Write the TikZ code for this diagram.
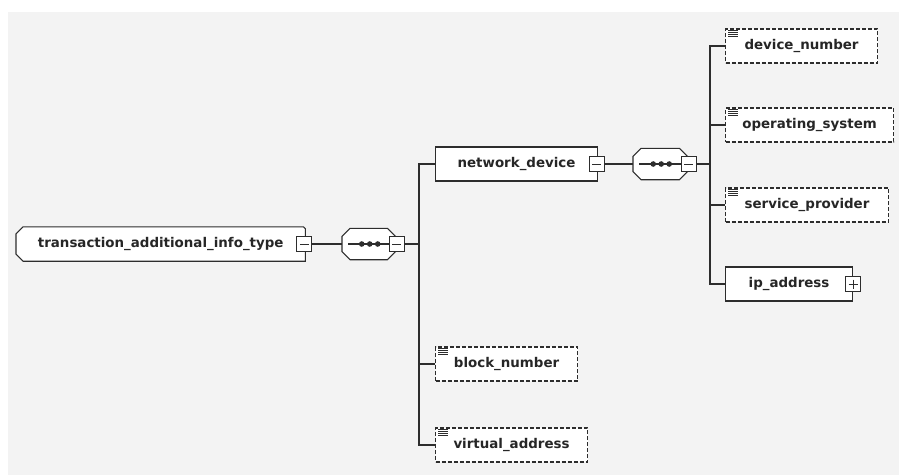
\documentclass[tikz,border=0pt]{standalone}
\usepackage{fontspec}
\setmainfont{DejaVu Sans}
\usetikzlibrary{positioning}

\definecolor{panelgray}{RGB}{243,243,243}
\definecolor{linegray}{RGB}{45,45,45}

\pgfdeclarelayer{panel}
\pgfdeclarelayer{outline}
\pgfsetlayers{panel,outline,main}

\tikzset{
  conn/.style={draw=linegray,line width=1.1pt},
  shapeline/.style={draw=linegray,line width=1.1pt,fill=white},
  label/.style={minimum height=34pt,inner sep=0pt,text=black!85,
    font=\bfseries\fontsize{13.4}{15}\selectfont},
  elem/.style={label,draw=linegray,line width=1.1pt,fill=white},
  optelem/.style={elem,dash pattern=on 4pt off 2pt},
  seqbox/.style={minimum width=53pt,minimum height=31pt,inner sep=0pt},
  togglebox/.style={draw=linegray,line width=1pt,fill=white,minimum size=15pt,inner sep=0pt},
  collapse/.style={togglebox,path picture={
      \draw[linegray,line width=0.8pt] ([xshift=3pt]path picture bounding box.west)
        -- ([xshift=-3pt]path picture bounding box.east);}},
  expand/.style={togglebox,path picture={
      \draw[linegray,line width=0.8pt] ([xshift=3pt]path picture bounding box.west)
        -- ([xshift=-3pt]path picture bounding box.east);
      \draw[linegray,line width=0.8pt] ([yshift=-3pt]path picture bounding box.north)
        -- ([yshift=3pt]path picture bounding box.south);}}
}

% small "text content" mark in the corner of an optional element
\newcommand{\docmark}[1]{%
  \foreach \k in {2,4,6,8}
    \draw[linegray,line width=0.7pt] ([xshift=3pt,yshift=-\k pt]#1.north west) -- ++(10,0);}

% octagon-like outline of a compositor
\newcommand{\seqoutline}[1]{%
  \draw[shapeline] ([xshift=8pt]#1.north west) -- ([xshift=-8pt]#1.north east)
    -- ([yshift=-8pt]#1.north east) -- ([yshift=8pt]#1.south east)
    -- ([xshift=-8pt]#1.south east) -- ([xshift=8pt]#1.south west)
    -- ([yshift=8pt]#1.south west) -- ([yshift=-8pt]#1.north west) -- cycle;}

\begin{document}
\begin{tikzpicture}[x=1pt,y=-1pt]
  \useasboundingbox (0,0) rectangle (899,475);
  \begin{pgfonlayer}{panel}
    \fill[panelgray] (8,12) rectangle (899,475);
  \end{pgfonlayer}

  % root type
  \node[label,minimum width=289pt,anchor=west] (root) at (16,244) {transaction\_additional\_info\_type};
  \begin{pgfonlayer}{outline}
    \draw[shapeline] ([xshift=7pt]root.north west) -- ([xshift=-2pt]root.north east)
      -- ([yshift=-2pt]root.north east) -- (root.south east)
      -- ([xshift=7pt]root.south west) -- ([yshift=7pt]root.south west)
      -- ([yshift=-7pt]root.north west) -- cycle;
  \end{pgfonlayer}
  \node[collapse] (roottog) at ([xshift=-1pt]root.east) {};

  % first sequence
  \node[seqbox,anchor=west] (seq1) at (342,244) {};
  \begin{pgfonlayer}{outline}
    \seqoutline{seq1}
  \end{pgfonlayer}
  \node[collapse] (seq1tog) at ([xshift=1.5pt]seq1.east) {};
  \draw[conn] ([xshift=6pt]seq1.west) -- (seq1tog.west);
  \foreach \d in {-7,1,9}
    \fill[linegray] ([xshift=\d pt]seq1.center) circle (2.8);
  \draw[conn] (roottog.east) -- (seq1.west);

  % children of the first sequence
  \node[elem,minimum width=162pt,anchor=west] (netdev) at (435,164) {network\_device};
  \node[collapse] (netdevtog) at ([xshift=-1.5pt]netdev.east) {};
  \node[optelem,minimum width=142pt,anchor=west] (blocknum) at (435,364) {block\_number};
  \node[optelem,minimum width=152pt,anchor=west] (virtaddr) at (435,445) {virtual\_address};
  \docmark{blocknum}
  \docmark{virtaddr}
  \coordinate (fork1) at (419,244);
  \draw[conn] (seq1tog.east) -- (fork1);
  \foreach \c in {netdev,blocknum,virtaddr}
    \draw[conn] (fork1) |- (\c.west);

  % second sequence
  \node[seqbox,minimum width=54pt,anchor=west] (seq2) at (633,164) {};
  \begin{pgfonlayer}{outline}
    \seqoutline{seq2}
  \end{pgfonlayer}
  \node[collapse] (seq2tog) at ([xshift=1.5pt]seq2.east) {};
  \draw[conn] ([xshift=6pt]seq2.west) -- (seq2tog.west);
  \foreach \d in {-7,1,9}
    \fill[linegray] ([xshift=\d pt]seq2.center) circle (2.8);
  \draw[conn] (netdevtog.east) -- (seq2.west);

  % children of network_device
  \node[optelem,minimum width=152pt,anchor=west] (devnum) at (725,46) {device\_number};
  \node[optelem,minimum width=168pt,anchor=west] (opsys) at (725,125) {operating\_system};
  \node[optelem,minimum width=163pt,anchor=west] (servprov) at (725,205) {service\_provider};
  \node[elem,minimum width=127pt,anchor=west] (ipaddr) at (725,284) {ip\_address};
  \node[expand] (ipaddrtog) at (ipaddr.east) {};
  \foreach \c in {devnum,opsys,servprov}
    \docmark{\c}
  \coordinate (fork2) at (710,164);
  \draw[conn] (seq2tog.east) -- (fork2);
  \foreach \c in {devnum,opsys,servprov,ipaddr}
    \draw[conn] (fork2) |- (\c.west);
\end{tikzpicture}
\end{document}
